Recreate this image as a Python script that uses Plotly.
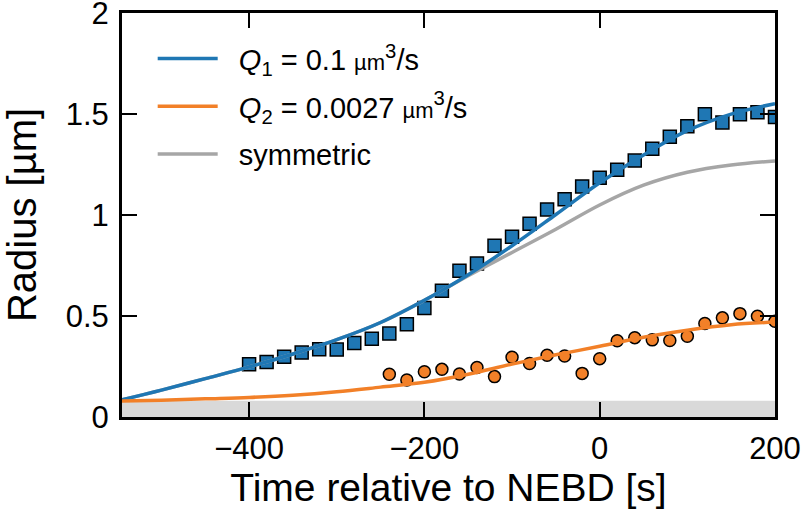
import plotly.graph_objects as go

# ── data ─────────────────────────────────────────────────────────────

# measured radius, fast-growing aster (squares)
t_q1 = [-400, -380, -360, -340, -320, -300, -280, -260, -240, -220, -200,
        -180, -160, -140, -120, -100, -80, -60, -40, -20, 0,
        20, 40, 60, 80, 100, 120, 140, 160, 180, 200]
r_q1 = [0.261, 0.273, 0.298, 0.319, 0.336, 0.334, 0.367, 0.388, 0.413, 0.460, 0.540,
        0.625, 0.724, 0.760, 0.848, 0.893, 0.957, 1.028, 1.078, 1.142, 1.185,
        1.225, 1.270, 1.329, 1.388, 1.440, 1.500, 1.459, 1.500, 1.509, 1.486]

# measured radius, slow-growing aster (circles)
t_q2 = [-240, -220, -200, -180, -160, -140, -120, -100, -80, -60, -40, -20,
        0, 20, 40, 60, 80, 100, 120, 140, 160, 180, 200]
r_q2 = [0.212, 0.183, 0.224, 0.236, 0.213, 0.245, 0.200, 0.296, 0.265, 0.306, 0.302, 0.216,
        0.289, 0.378, 0.393, 0.382, 0.379, 0.400, 0.463, 0.491, 0.512, 0.499, 0.474]

# model curves
t_fit = [-545, -500, -450, -400, -350, -300, -250, -200,
         -150, -100, -50, 0, 50, 100, 150, 200]
fit_q1 = [0.085, 0.133, 0.19, 0.248, 0.312, 0.383, 0.468, 0.578,
          0.705, 0.848, 1.003, 1.16, 1.298, 1.418, 1.50, 1.552]
fit_q2 = [0.079, 0.083, 0.09, 0.097, 0.108, 0.125, 0.148, 0.172,
          0.212, 0.262, 0.308, 0.35, 0.395, 0.43, 0.457, 0.470]
fit_sym = [0.085, 0.133, 0.19, 0.248, 0.312, 0.383, 0.468, 0.578,
           0.700, 0.815, 0.93, 1.05, 1.148, 1.212, 1.248, 1.268]

band_top = 0.08  # grey band at the bottom of the axes

x_ticks = [-400, -200, 0, 200]
y_ticks = [0, 0.5, 1, 1.5, 2]
y_labels = ["0", "0.5", "1", "1.5", "2"]

# ── style ────────────────────────────────────────────────────────────

BLUE = "#1f77b4"
ORANGE = "#f28028"
GREY = "#a6a6a6"
FONT = "Liberation Sans, Arial, sans-serif"

pad = "\u00a0\u00a0"
unit = '<span style="font-size:22px">µm</span><sup>3</sup>/s'
name_q1 = f"{pad}<i>Q</i><sub>1</sub> = 0.1 {unit}"
name_q2 = f"{pad}<i>Q</i><sub>2</sub> = 0.0027 {unit}"
name_sym = f"{pad}symmetric"

# ── chart ────────────────────────────────────────────────────────────

fig = go.Figure()

fig.add_trace(go.Scatter(
    x=t_q1, y=r_q1, mode="markers", showlegend=False,
    marker={"symbol": "square", "size": 13, "color": BLUE,
            "line": {"color": "black", "width": 1.5}},
))
fig.add_trace(go.Scatter(
    x=t_q2, y=r_q2, mode="markers", showlegend=False,
    marker={"symbol": "circle", "size": 12, "color": ORANGE,
            "line": {"color": "black", "width": 1.5}},
))
fig.add_trace(go.Scatter(
    x=t_fit, y=fit_sym, mode="lines", name=name_sym, legendrank=3,
    legendgroup="sym",
    line={"color": GREY, "width": 3.5, "shape": "spline"},
))
fig.add_trace(go.Scatter(
    x=t_fit, y=fit_q1, mode="lines", name=name_q1, legendrank=1,
    legendgroup="q1",
    line={"color": BLUE, "width": 3.5, "shape": "spline"},
))
fig.add_trace(go.Scatter(
    x=t_fit, y=fit_q2, mode="lines", name=name_q2, legendrank=2,
    legendgroup="q2",
    line={"color": ORANGE, "width": 3.5, "shape": "spline"},
))

fig.add_shape(
    type="rect", xref="paper", yref="y", x0=0, x1=1, y0=0, y1=band_top,
    fillcolor="#d9d9d9", line={"width": 0}, layer="below",
)

axis_common = dict(
    showline=True, linecolor="black", linewidth=3, mirror="ticks",
    ticks="inside", ticklen=15, tickwidth=2, tickcolor="black",
    showgrid=False, zeroline=False, automargin=False,
    ticklabeloverflow="allow",
    tickfont={"size": 31, "color": "black"},
)

fig.update_xaxes(
    range=[-545, 200.01], tickvals=x_ticks, ticklabelstandoff=2,
    title={"text": "Time relative to NEBD [s]", "font": {"size": 39}, "standoff": 0},
    **axis_common,
)
fig.update_yaxes(
    range=[0, 2.001], tickvals=y_ticks, ticktext=y_labels, ticklabelstandoff=4,
    title={"text": "Radius [µm]", "font": {"size": 40}, "standoff": 34},
    **axis_common,
)

fig.update_layout(
    width=804, height=520,
    margin={"l": 122, "r": 29, "t": 13, "b": 103},
    paper_bgcolor="white", plot_bgcolor="white",
    font={"family": FONT, "color": "black"},
    showlegend=True,
    legend={"x": 0.047, "y": 0.95, "xanchor": "left", "yanchor": "top",
            "bgcolor": "rgba(0,0,0,0)", "font": {"size": 29},
            "itemwidth": 60, "tracegroupgap": 7},
)

# drop the default page margin so the figure sits at the window's corner
fig.write_html(
    "out.html",
    config={"displayModeBar": False},
    post_script="document.body.style.margin = '0';",
)
